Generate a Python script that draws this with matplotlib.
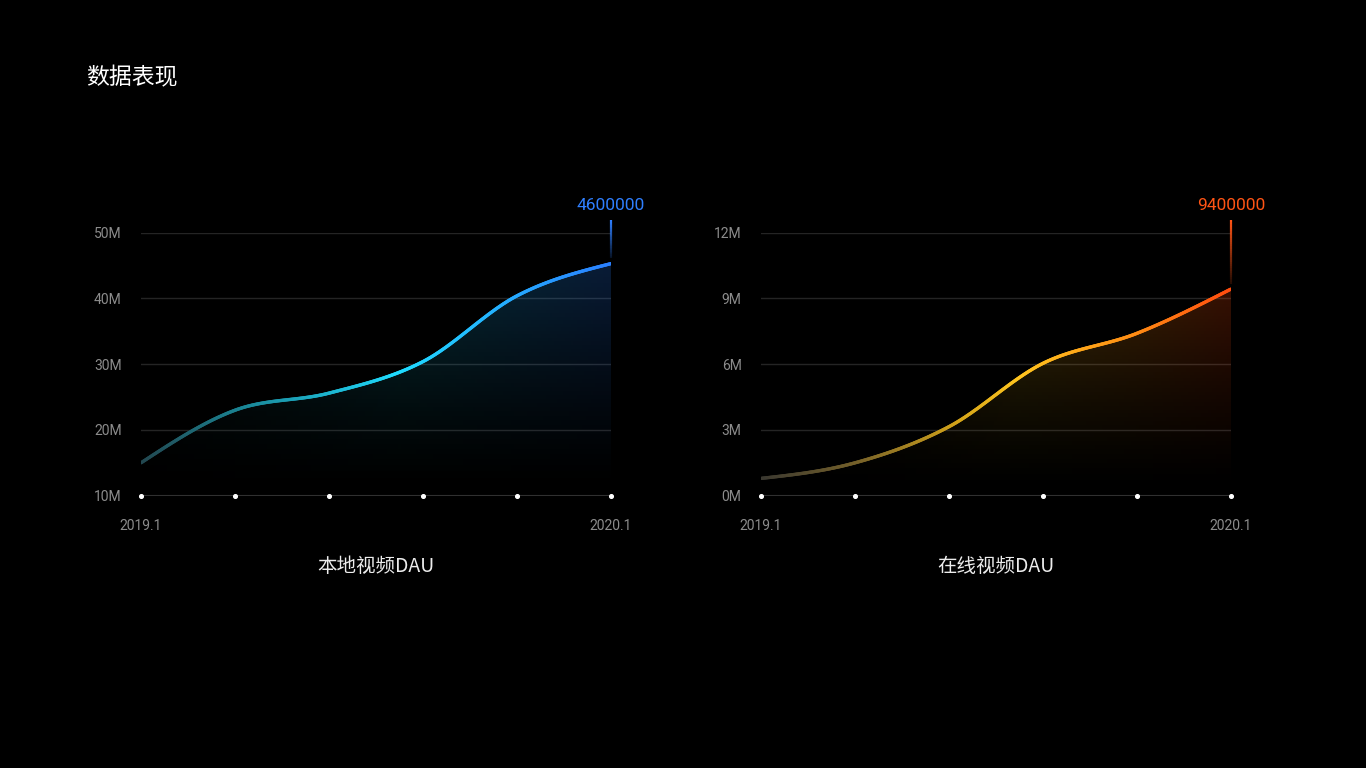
import matplotlib
matplotlib.use("Agg")
import matplotlib.pyplot as plt
import numpy as np
from matplotlib.collections import LineCollection
from matplotlib.colors import LinearSegmentedColormap, to_rgba
from matplotlib.transforms import blended_transform_factory

# === данные ===
x_labels = ["2019.1", "", "", "", "", "2020.1"]

local_dau = [15.0, 23.0, 25.6, 30.4, 40.4, 45.3]      # млн
local_ticks = [10, 20, 30, 40, 50]
local_tick_labels = ["10M", "20M", "30M", "40M", "50M"]
local_peak = "4600000"

online_dau = [0.79, 1.5, 3.15, 6.04, 7.41, 9.43]      # млн
online_ticks = [0, 3, 6, 9, 12]
online_tick_labels = ["0M", "3M", "6M", "9M", "12M"]
online_peak = "9400000"

CJK = ["Noto Sans CJK SC", "DejaVu Sans"]
NUM = ["Roboto", "DejaVu Sans"]


def smooth(x, y, n=80):
    # кубический Эрмит (Catmull-Rom, "естественные" концы) — только для отрисовки
    x = np.asarray(x, float)
    y = np.asarray(y, float)
    m = np.gradient(y, x)
    m[0] = (3 * (y[1] - y[0]) / (x[1] - x[0]) - m[1]) / 2
    m[-1] = (3 * (y[-1] - y[-2]) / (x[-1] - x[-2]) - m[-2]) / 2
    xs, ys = [], []
    for i in range(len(x) - 1):
        t = np.linspace(0, 1, n, endpoint=False)
        h = x[i + 1] - x[i]
        h00 = 2 * t**3 - 3 * t**2 + 1
        h10 = t**3 - 2 * t**2 + t
        h01 = -2 * t**3 + 3 * t**2
        h11 = t**3 - t**2
        xs.append(x[i] + t * h)
        ys.append(h00 * y[i] + h10 * h * m[i] + h01 * y[i + 1] + h11 * h * m[i + 1])
    xs.append([x[-1]])
    ys.append([y[-1]])
    return np.concatenate(xs), np.concatenate(ys)


def draw_panel(ax, values, ticks, tick_labels, cmap, peak_text, peak_color, fill_alpha):
    x = np.arange(len(values))
    ymin, ymax = ticks[0], ticks[-1]
    sx, sy = smooth(x, values)

    # градиентная заливка под кривой
    nx, ny = 300, 200
    top = max(values)
    img = np.zeros((ny, nx, 4))
    cols = cmap(np.linspace(0, 1, nx))
    yy = np.linspace(0, 1, ny)[:, None]
    img[..., :3] = cols[None, :, :3]
    img[..., 3] = fill_alpha * yy**1.3
    im = ax.imshow(img, extent=[x[0], x[-1], ymin, top], origin="lower",
                   aspect="auto", zorder=1, interpolation="bilinear")
    poly = ax.fill_between(sx, ymin, sy, color="none", lw=0)
    im.set_clip_path(poly.get_paths()[0], transform=ax.transData)

    # линия с градиентом
    pts = np.column_stack([sx, sy]).reshape(-1, 1, 2)
    segs = np.concatenate([pts[:-1], pts[1:]], axis=1)
    lc = LineCollection(segs, colors=cmap(np.linspace(0, 1, len(segs))),
                        linewidths=2.4, capstyle="round", zorder=4)
    ax.add_collection(lc)

    # сетка и базовая линия
    for t in ticks[1:]:
        ax.axhline(t, color="#242424", lw=1, zorder=0)
    ax.axhline(ymin, color="#303030", lw=1.5, zorder=2)
    ax.scatter(x, [ymin] * len(x), s=7, color="white", zorder=5, clip_on=False)

    # отметка максимума
    trans = blended_transform_factory(ax.transData, ax.transAxes)
    y_top = 1.048
    frac_last = (values[-1] - ymin) / (ymax - ymin)
    ly = np.linspace(frac_last + 0.02, y_top, 30)
    lpts = np.column_stack([np.full_like(ly, x[-1]), ly]).reshape(-1, 1, 2)
    lsegs = np.concatenate([lpts[:-1], lpts[1:]], axis=1)
    rgba = np.array([to_rgba(peak_color)] * len(lsegs))
    rgba[:, 3] = np.linspace(0.15, 1.0, len(lsegs))
    ax.add_collection(LineCollection(lsegs, colors=rgba, linewidths=1.6,
                                     transform=trans, zorder=3, clip_on=False))
    ax.text(x[-1], 1.105, peak_text, transform=trans, ha="center", va="center",
            color=peak_color, fontsize=12.5, family=NUM)

    ax.set_xlim(x[0], x[-1])
    ax.set_ylim(ymin, ymax)
    ax.set_yticks(ticks)
    ax.set_yticklabels(tick_labels, family=NUM)
    ax.set_xticks(x)
    ax.set_xticklabels(x_labels, family=NUM)
    ax.tick_params(length=0, colors="#8c8c8c", labelsize=10)
    ax.tick_params(axis="y", pad=14)
    ax.tick_params(axis="x", pad=16.5)
    for s in ax.spines.values():
        s.set_visible(False)
    ax.set_facecolor("black")


blue_cmap = LinearSegmentedColormap.from_list(
    "b", [(0, "#22474f"), (0.22, "#1a8696"), (0.55, "#1fdcff"), (1.0, "#2a80ff")])
orange_cmap = LinearSegmentedColormap.from_list(
    "o", [(0, "#3a3830"), (0.2, "#74602a"), (0.42, "#d4a419"), (0.55, "#ffc51f"),
          (0.8, "#ff8c14"), (1.0, "#ff4d0f")])

fig = plt.figure(figsize=(13.66, 7.68), dpi=100, facecolor="black")
ax1 = fig.add_axes([141 / 1366, 1 - 495.7 / 768, 470 / 1366, 263 / 768])
ax2 = fig.add_axes([761 / 1366, 1 - 495.7 / 768, 470 / 1366, 263 / 768])

draw_panel(ax1, local_dau, local_ticks, local_tick_labels, blue_cmap,
           local_peak, "#2f7fff", 0.22)
draw_panel(ax2, online_dau, online_ticks, online_tick_labels, orange_cmap,
           online_peak, "#ff5415", 0.22)

fig.text(86 / 1366, 1 - 77.5 / 768, "数据表现", color="white", fontsize=16.5,
         va="center", ha="left", family=CJK)
fig.text(376 / 1366, 1 - 566 / 768, "本地视频DAU", color="#ececec", fontsize=14,
         va="center", ha="center", family=CJK)
fig.text(996 / 1366, 1 - 566 / 768, "在线视频DAU", color="#ececec", fontsize=14,
         va="center", ha="center", family=CJK)

fig.savefig("out.png", dpi=100, facecolor="black")
